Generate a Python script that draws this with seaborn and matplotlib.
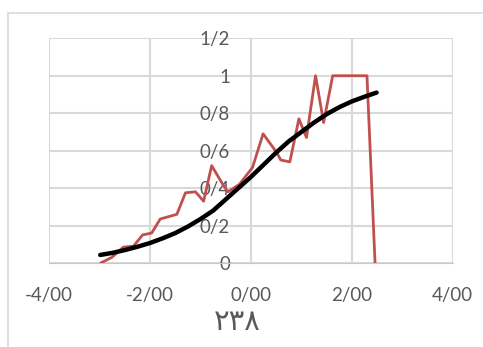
import matplotlib
matplotlib.use("Agg")
import matplotlib.pyplot as plt
import seaborn as sns
from matplotlib.patches import Rectangle

# observed series (red, jagged)
obs_x = [-2.98, -2.76, -2.53, -2.33, -2.15, -1.97, -1.80, -1.47, -1.30, -1.10,
         -0.94, -0.78, -0.56, -0.46, -0.23, 0.03, 0.24, 0.51, 0.59, 0.77,
         0.95, 1.10, 1.28, 1.44, 1.62, 2.30, 2.46]
obs_y = [0.0, 0.03, 0.085, 0.09, 0.15, 0.16, 0.235, 0.26, 0.375, 0.38,
         0.33, 0.52, 0.42, 0.38, 0.42, 0.51, 0.69, 0.59, 0.55, 0.54,
         0.77, 0.67, 1.0, 0.75, 1.0, 1.0, 0.0]

# fitted curve (black, smooth)
fit_x = [-2.99, -2.75, -2.5, -2.25, -2.0, -1.75, -1.5, -1.25, -1.0, -0.75,
         -0.5, -0.25, 0.0, 0.25, 0.5, 0.75, 1.0, 1.25, 1.5, 1.75,
         2.0, 2.25, 2.49]
fit_y = [0.043, 0.054, 0.069, 0.087, 0.107, 0.132, 0.16, 0.195, 0.235, 0.28,
         0.34, 0.40, 0.46, 0.525, 0.59, 0.65, 0.70, 0.75, 0.795, 0.832,
         0.863, 0.888, 0.91]

x_ticks = [-4, -2, 0, 2, 4]
x_labels = ["-4/00", "-2/00", "0/00", "2/00", "4/00"]
y_ticks = [0, 0.2, 0.4, 0.6, 0.8, 1.0, 1.2]
y_labels = ["0", "0/2", "0/4", "0/6", "0/8", "1", "1/2"]
caption = "۲۳۸"

sns.set_style("white")
plt.rcParams['font.family'] = ['Lato', 'DejaVu Sans']

fig = plt.figure(figsize=(4.83, 3.47), dpi=100)
ax = fig.add_axes([49.3 / 483, 1 - 263 / 347, (452.7 - 49.3) / 483, (263 - 38.3) / 347])

grid_c = "#d9d9d9"
sns.lineplot(x=obs_x, y=obs_y, ax=ax, color="#c0504d", lw=2, sort=False,
             estimator=None, zorder=3)
sns.lineplot(x=fit_x, y=fit_y, ax=ax, color="black", lw=3.2, sort=False,
             estimator=None, zorder=4, solid_joinstyle="round",
             solid_capstyle="round")

ax.set_xlim(-4, 4)
ax.set_ylim(0, 1.2)
ax.set_xticks(x_ticks)
ax.set_xticklabels(x_labels)
ax.set_yticks(y_ticks)
ax.set_yticklabels(y_labels)
ax.grid(True, color=grid_c, lw=1.5)
ax.set_axisbelow(True)
for s in ["top", "right", "bottom", "left"]:
    ax.spines[s].set_visible(False)
ax.spines["left"].set_visible(True)
ax.spines["left"].set_position(("data", 0))
ax.spines["left"].set_color(grid_c)
ax.spines["bottom"].set_visible(True)
ax.spines["bottom"].set_color("#c8c8c8")
ax.tick_params(axis="x", length=0, pad=17, labelsize=13.5, labelcolor="#595959")
ax.tick_params(axis="y", length=0, pad=15, labelsize=13.5, labelcolor="#595959")

fig.text(237 / 483, 1 - 322 / 347, caption, ha="center", va="center",
         fontsize=21, color="#595959", family=["DejaVu Sans"])

fig.patches.append(Rectangle((8 / 483, -0.1), 1.2, 0.1 + 1 - 13 / 347,
                             transform=fig.transFigure, fill=False,
                             edgecolor="#d9d9d9", lw=1.2))

fig.savefig("out.png", dpi=100)
